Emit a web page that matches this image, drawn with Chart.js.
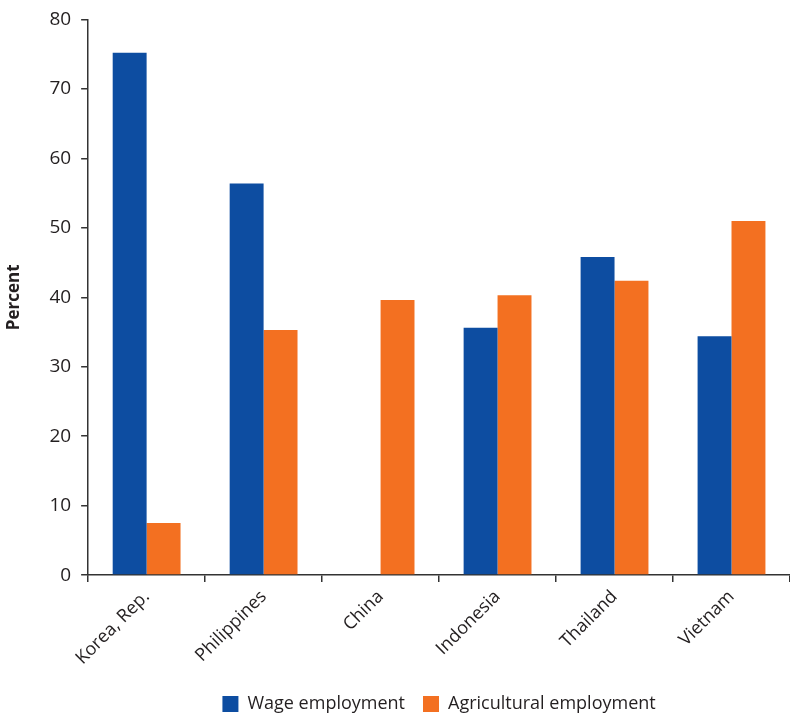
<!DOCTYPE html>
<html>
<head>
<meta charset="utf-8">
<script src="https://cdn.jsdelivr.net/npm/chart.js@4/dist/chart.umd.min.js"></script>
<style>
  html, body { margin: 0; padding: 0; background: #fff; }
  #wrap { width: 790px; height: 714px; }
</style>
</head>
<body>
<div id="wrap"><canvas id="barChart"></canvas></div>
<script>
// data
const countries = ['Korea, Rep.', 'Philippines', 'China', 'Indonesia', 'Thailand', 'Vietnam'];
const wageEmployment = [75.2, 56.4, null, 35.6, 45.8, 34.4];
const agriEmployment = [7.5, 35.3, 39.6, 40.3, 42.4, 51.0];
const yTicks = [0, 10, 20, 30, 40, 50, 60, 70, 80];

const textColor = '#231f20';
const axisColor = '#333333';
Chart.defaults.font.family = '"Open Sans", "Noto Sans", sans-serif';
Chart.defaults.color = textColor;

new Chart(document.getElementById('barChart'), {
  type: 'bar',
  data: {
    labels: countries,
    datasets: [{
      label: 'Wage employment',
      data: wageEmployment,
      backgroundColor: '#0d4da1'
    }, {
      label: 'Agricultural employment',
      data: agriEmployment,
      backgroundColor: '#f37021'
    }]
  },
  options: {
    responsive: true,
    maintainAspectRatio: false,
    animation: false,
    layout: { padding: { top: 0, right: 0, left: 4, bottom: -9 } },
    datasets: {
      bar: { categoryPercentage: 0.58, barPercentage: 1.0 }
    },
    plugins: {
      tooltip: { enabled: false },
      legend: {
        position: 'bottom',
        fullSize: false,
        labels: {
          boxWidth: 16,
          boxHeight: 16,
          padding: 18,
          font: { size: 18 }
        }
      }
    },
    scales: {
      x: {
        afterFit: (scale) => { scale.height += 4; },
        grid: {
          offset: true,
          drawOnChartArea: false,
          drawTicks: true,
          tickLength: 7,
          color: axisColor,
          lineWidth: 1.5
        },
        border: { color: axisColor, width: 1.5 },
        ticks: {
          minRotation: 45,
          maxRotation: 45,
          padding: 4,
          font: { size: 18 }
        }
      },
      y: {
        min: 0,
        max: 80,
        afterBuildTicks: (axis) => { axis.ticks = yTicks.map(v => ({ value: v })); },
        grid: {
          drawOnChartArea: false,
          drawTicks: true,
          tickLength: 7,
          color: axisColor,
          lineWidth: 1.5
        },
        border: { color: axisColor, width: 1.5 },
        ticks: { padding: 10, font: { size: 19, lineHeight: 1.0 } },
        title: {
          display: true,
          text: 'Percent',
          font: { size: 17, weight: 'bold' },
          padding: { top: 0, bottom: 15 }
        }
      }
    }
  }
});
</script>
</body>
</html>
